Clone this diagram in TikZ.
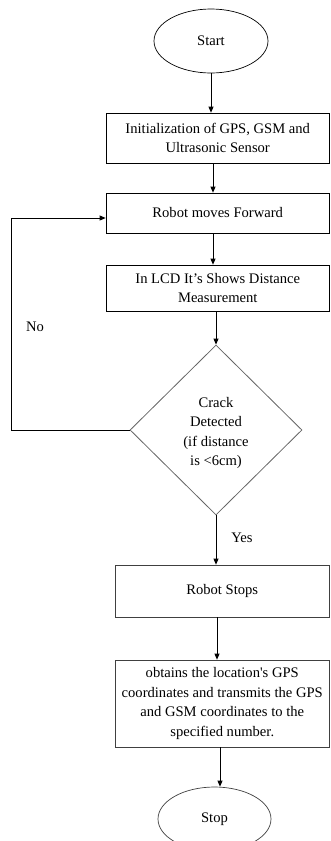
\documentclass[tikz,border=0pt]{standalone}
\usepackage{fontspec}
\setmainfont{Liberation Serif}
\usetikzlibrary{shapes.geometric,arrows.meta}
\begin{document}
\begin{tikzpicture}[x=1pt,y=-1pt,
  every node/.style={font=\fontsize{14.6}{19.5}\selectfont},
  box/.style={draw=black, line width=0.7pt, rectangle, align=center, inner sep=0pt},
  term/.style={draw=black, line width=0.7pt, ellipse, inner sep=0pt},
  deci/.style={draw=black!60, line width=0.8pt, diamond, inner sep=0pt, align=center},
  arr/.style={line width=0.8pt, -{Triangle[length=6pt,width=5pt]}},
  lbl/.style={inner sep=0pt}]
\useasboundingbox (0,0) rectangle (330,841);
\node[term, minimum width=114pt, minimum height=64pt] (start) at (211,41) {Start};
\node[box, minimum width=223.5pt, minimum height=50pt] (b1) at (217.75,138) {Initialization of GPS, GSM and\\Ultrasonic Sensor};
\node[box, minimum width=223.5pt, minimum height=40pt] (b2) at (217.75,213) {Robot moves Forward};
\node[box, minimum width=223.5pt, minimum height=46pt] (b3) at (217.75,288) {In LCD It’s Shows Distance\\Measurement};
\node[deci, minimum width=172pt, minimum height=170pt] (dia) at (216,430) {};
\node[lbl, align=center] (dtxt) at (216,433) {Crack\\Detected\\(if distance\\is <6cm)};
\node[box, draw=black!75, minimum width=214.5pt, minimum height=52pt] (b4) at (222.25,591) {Robot Stops};
\node[box, draw=black!75, minimum width=214.5pt, minimum height=87pt] (b5) at (222.25,703.5) {obtains the location\textquotesingle s GPS\\coordinates and transmits the GPS\\and GSM coordinates to the\\specified number.};
\node[term, draw=black!75, minimum width=113pt, minimum height=64pt] (stop) at (214.5,819) {Stop};
\node[lbl] (no) at (35,327) {No};
\node[lbl] (yes) at (242,538) {Yes};
\coordinate (lp) at (11,430);
\draw[arr] (start.south) -- (start.south |- b1.north);
\draw[arr] ([xshift=-4.75pt]b1.south) -- ([xshift=-4.75pt]b1.south |- b2.north);
\draw[arr] ([xshift=-4.75pt]b2.south) -- ([xshift=-4.75pt]b2.south |- b3.north);
\draw[arr] (dia.north |- b3.south) -- (dia.north);
\draw[arr] (dia.south) -- (dia.south |- b4.north);
\draw[arr] ([xshift=-5.25pt]b4.south) -- ([xshift=-5.25pt]b4.south |- b5.north);
\draw[arr] ([xshift=-2.25pt]b5.south) -- ([xshift=-2.25pt]b5.south |- stop.north);
\draw[arr] (dia.west) -- (dia.west -| lp) |- ([yshift=-5pt]b2.west);
\end{tikzpicture}
\end{document}
